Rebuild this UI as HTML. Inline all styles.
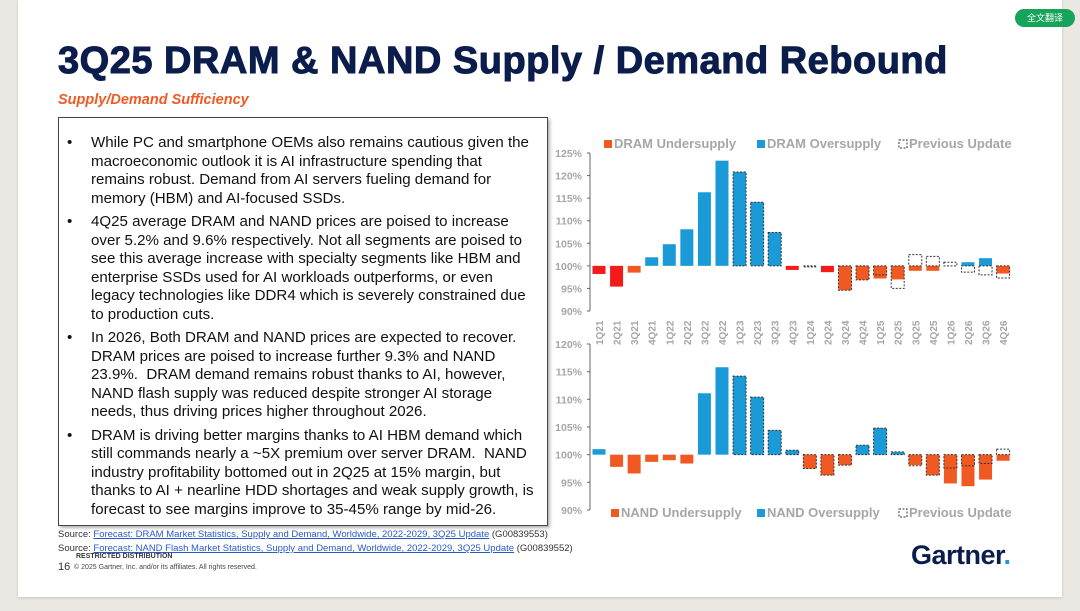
<!DOCTYPE html>
<html><head><meta charset="utf-8"><style>
body{margin:0;width:1080px;height:611px;background:#ebe8e3;font-family:"Liberation Sans",Arial,sans-serif;overflow:hidden;position:relative}
.slide{position:absolute;left:18px;top:0;width:1044px;height:597px;background:#fff;box-shadow:0 1px 3px rgba(0,0,0,.15)}
h1{position:absolute;left:40px;top:40px;margin:0;font-size:38px;font-weight:bold;color:#0b1d4b;letter-spacing:.5px;white-space:nowrap;-webkit-text-stroke:1px #0b1d4b}
.sub{position:absolute;left:40px;top:92px;font-size:14.5px;font-weight:bold;font-style:italic;color:#f05a22}
.box{position:absolute;left:40px;top:117px;width:490px;height:409px;border:1.5px solid #444;box-shadow:2px 2px 3px rgba(0,0,0,.3);box-sizing:border-box}
.box ul{margin:0;padding:16px 0 0 32px;font-size:15.1px;line-height:18.5px;color:#111;white-space:nowrap}
.box li{margin-bottom:5px;list-style:none;position:relative}
.box li:before{content:"•";position:absolute;left:-24px}
.src{position:absolute;left:40px;font-size:9.5px;color:#333}
.src a{color:#2a59c9;text-decoration:underline}
.btn{position:absolute;left:1015px;top:9px;width:60px;height:18px;border-radius:9px;background:#17a35a;color:#fff;font-size:9px;line-height:18px;text-align:center}
</style></head><body>
<div class="slide">
<h1>3Q25 DRAM &amp; NAND Supply / Demand Rebound</h1>
<div class="sub">Supply/Demand Sufficiency</div>
<div class="box"><ul>
<li>While PC and smartphone OEMs also remains cautious given the<br>macroeconomic outlook it is AI infrastructure spending that<br>remains robust. Demand from AI servers fueling demand for<br>memory (HBM) and AI-focused SSDs.</li>
<li>4Q25 average DRAM and NAND prices are poised to increase<br>over 5.2% and 9.6% respectively. Not all segments are poised to<br>see this average increase with specialty segments like HBM and<br>enterprise SSDs used for AI workloads outperforms, or even<br>legacy technologies like DDR4 which is severely constrained due<br>to production cuts.</li>
<li>In 2026, Both DRAM and NAND prices are expected to recover.<br>DRAM prices are poised to increase further 9.3% and NAND<br>23.9%.&nbsp; DRAM demand remains robust thanks to AI, however,<br>NAND flash supply was reduced despite stronger AI storage<br>needs, thus driving prices higher throughout 2026.</li>
<li>DRAM is driving better margins thanks to AI HBM demand which<br>still commands nearly a ~5X premium over server DRAM.&nbsp; NAND<br>industry profitability bottomed out in 2Q25 at 15% margin, but<br>thanks to AI + nearline HDD shortages and weak supply growth, is<br>forecast to see margins improve to 35-45% range by mid-26.</li>
</ul></div>
<div class="src" style="top:529px">Source: <a>Forecast: DRAM Market Statistics, Supply and Demand, Worldwide, 2022-2029, 3Q25 Update</a> (G00839553)</div>
<div class="src" style="top:543px">Source: <a>Forecast: NAND Flash Market Statistics, Supply and Demand, Worldwide, 2022-2029, 3Q25 Update</a> (G00839552)</div>
<div style="position:absolute;left:58px;top:553px;font-size:7px;font-weight:bold;color:#333">RESTRICTED DISTRIBUTION</div>
<div style="position:absolute;left:40px;top:561px;font-size:11px;color:#333">16</div>
<div style="position:absolute;left:56px;top:564px;font-size:7px;color:#444">© 2025 Gartner, Inc. and/or its affiliates. All rights reserved.</div>
<div style="position:absolute;left:893px;top:540px;font-size:27px;font-weight:bold;color:#0b1d4b;letter-spacing:-.5px">Gartner<span style="color:#1a9bd7">.</span></div>
</div>
<div class="btn">全文翻译</div>
<svg id="ch" width="1080" height="611" style="position:absolute;left:0;top:0"></svg>
<script>
const cats=["1Q21","2Q21","3Q21","4Q21","1Q22","2Q22","3Q22","4Q22","1Q23","2Q23","3Q23","4Q23","1Q24","2Q24","3Q24","4Q24","1Q25","2Q25","3Q25","4Q25","1Q26","2Q26","3Q26","4Q26"];
const dramVals=[98.2,95.4,98.5,101.9,104.8,108.1,116.3,123.3,120.8,114.1,107.4,99.1,100,98.6,94.6,96.9,97.2,97.0,98.9,98.9,100,100.8,101.7,98.3];
const dramRed=[1,1,0,0,0,0,0,0,0,0,0,1,0,1,0,0,0,0,0,0,0,0,0,0];
const dramPrev=[null,null,null,null,null,null,null,null,120.8,114.1,107.4,null,100,null,94.6,96.9,98.0,95.0,102.5,102.1,100.8,98.6,98.0,97.3];
const nandVals=[101.0,97.8,96.6,98.7,99.0,98.4,111.1,115.8,114.2,110.4,104.4,100.8,97.5,96.3,98.1,101.7,104.8,100.5,98.1,96.3,94.8,94.3,95.5,98.9];
const nandPrev=[null,null,null,null,null,null,null,null,114.2,110.4,104.4,100.8,97.5,96.3,98.1,101.7,104.8,100.5,98.0,96.3,97.6,98.0,98.4,101.0];
const dramTicks=[90,95,100,105,110,115,120,125];
const nandTicks=[90,95,100,105,110,115,120];
const svg=document.getElementById('ch');const NS='http://www.w3.org/2000/svg';
function mk(t,a,p){const e=document.createElementNS(NS,t);for(const k in a)e.setAttribute(k,a[k]);(p||svg).appendChild(e);return e;}
const xc=i=>599+i*17.57;
function chart(name,vals,prev,red,ticks,ymin,ymax,ytop,ybot,showX){
 const g=mk('g',{});
 
 
 const y=v=>ybot-(v-ymin)/(ymax-ymin)*(ybot-ytop);
 mk('line',{x1:590,x2:590,y1:ytop,y2:ybot,stroke:'#666','stroke-width':1},g);
 ticks.forEach(t=>{mk('line',{x1:587,x2:590,y1:y(t),y2:y(t),stroke:'#666'},g);
  const tx=mk('text',{x:582,y:y(t)+4,'text-anchor':'end','font-size':10.5,'font-weight':'bold',fill:'#a6a6a6'},g);tx.textContent=t+'%';
  
  });
 vals.forEach((v,i)=>{const y0=y(100),y1=y(v);const col=v>=100?'#1a9bd7':(red&&red[i]?'#f51a1a':'#f05a22');
  if(Math.abs(v-100)>0.05){const r=mk('rect',{x:xc(i)-6.5,y:Math.min(y0,y1),width:13,height:Math.abs(y1-y0),fill:col},g);
  
  }
  const p=prev[i];if(p!=null){const y2=y(p);const r2=mk('rect',{x:xc(i)-6.5,y:Math.min(y0,y2),width:13,height:Math.max(1,Math.abs(y2-y0)),fill:'none',stroke:'#333','stroke-width':1,'stroke-dasharray':'2,1.5'},g);
  
  }
  if(showX){const t=mk('text',{x:0,y:0,transform:`translate(${xc(i)+4},${ybot+34}) rotate(-90)`,'font-size':10,'font-weight':'bold',fill:'#a6a6a6'},g);t.textContent=cats[i];
  
  }
 });
}
chart('dram-chart',dramVals,dramPrev,dramRed,dramTicks,90,125,153,311,true);
chart('nand-chart',nandVals,nandPrev,null,nandTicks,90,120,344,510,false);
function legend(items,yy){items.forEach(([x,type,lab])=>{
 if(type=='prev')mk('rect',{x:x,y:yy-8,width:8,height:8,fill:'none',stroke:'#333','stroke-dasharray':'2,1.5'});
 else mk('rect',{x:x,y:yy-8,width:8,height:8,fill:type});
 const t=mk('text',{x:x+10,y:yy,'font-size':13,'font-weight':'bold',fill:'#a6a6a6'});t.textContent=lab;
 
 });}
legend([[604,'#f05a22','DRAM Undersupply'],[757,'#1a9bd7','DRAM Oversupply'],[899,'prev','Previous Update']],148);
legend([[611,'#f05a22','NAND Undersupply'],[757,'#1a9bd7','NAND Oversupply'],[899,'prev','Previous Update']],517);
</script>
</body></html>
